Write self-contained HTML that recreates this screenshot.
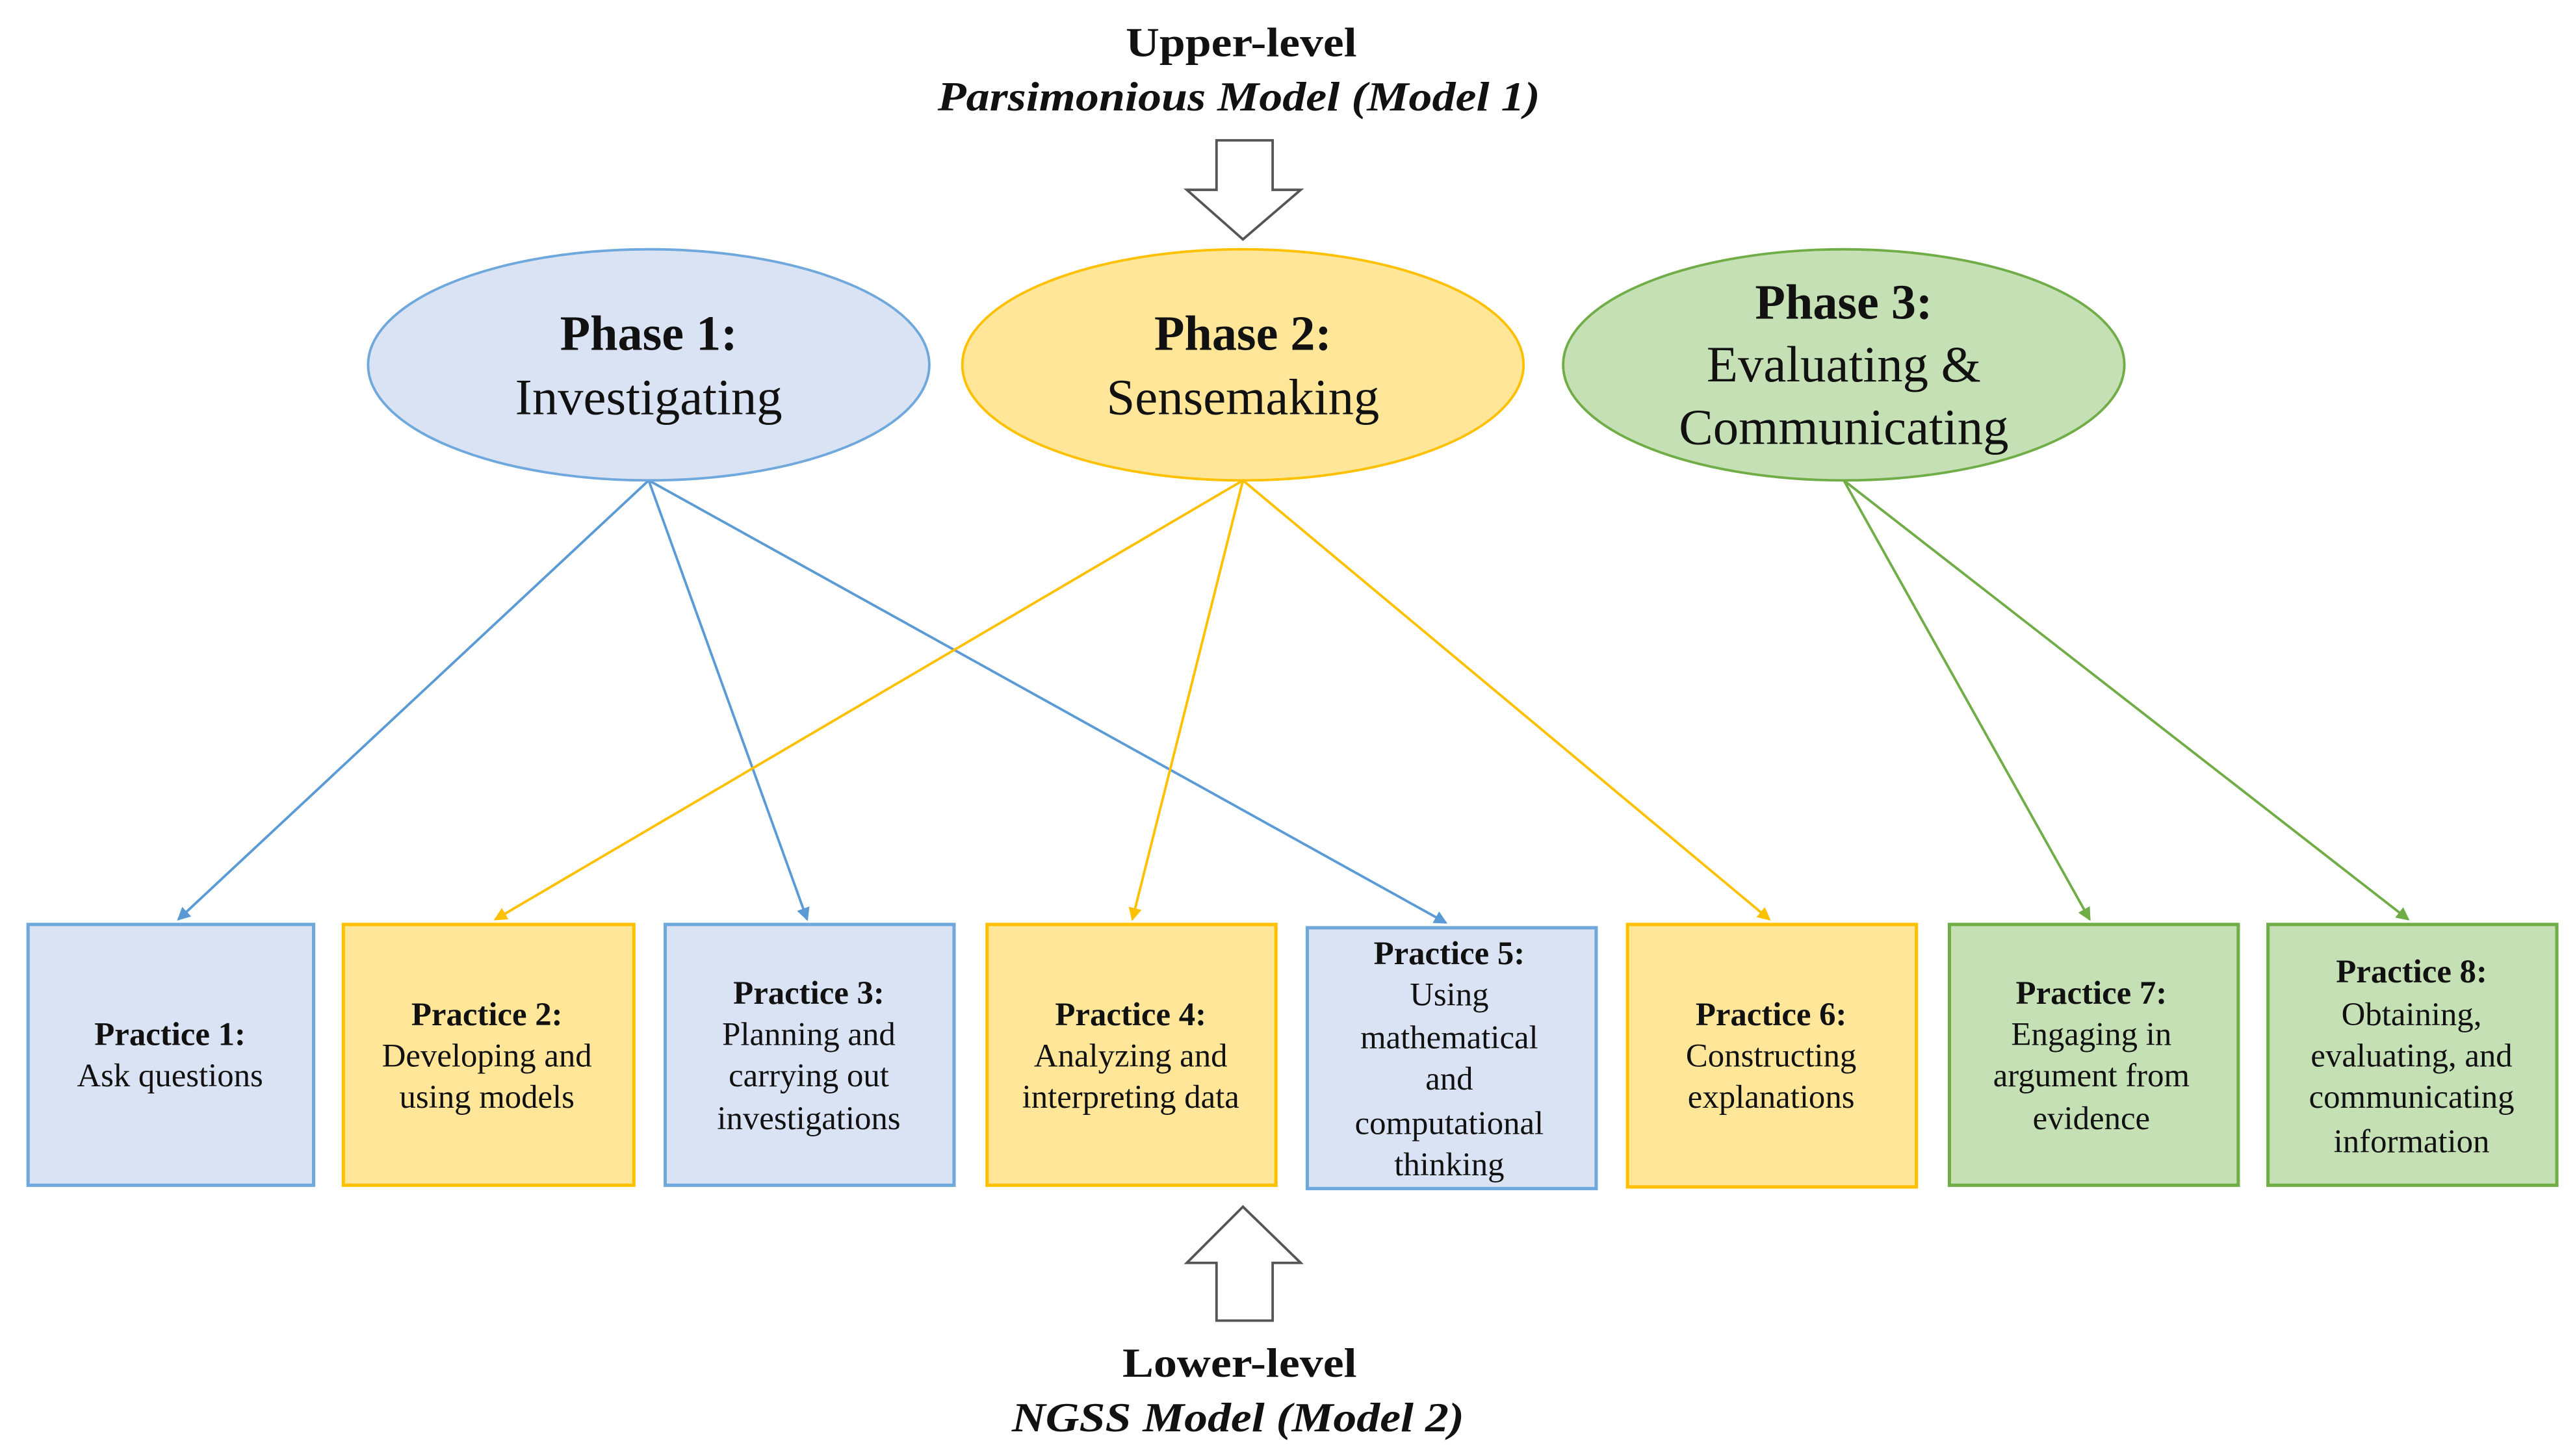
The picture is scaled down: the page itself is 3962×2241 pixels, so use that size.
<!DOCTYPE html>
<html><head><meta charset="utf-8"><style>
html,body{margin:0;padding:0;background:#fff;}
svg{display:block;}
text{font-family:"Liberation Serif",serif;fill:#111;}
.b{font-weight:bold;}
</style></head><body>
<svg width="3962" height="2241" viewBox="0 0 1560 882" preserveAspectRatio="none" xmlns="http://www.w3.org/2000/svg">
<defs>
<marker id="ab" markerWidth="8" markerHeight="8" refX="7" refY="4" orient="auto" markerUnits="userSpaceOnUse"><path d="M0,0 L8,4 L0,8z" fill="#5b9bd5"/></marker>
<marker id="ay" markerWidth="8" markerHeight="8" refX="7" refY="4" orient="auto" markerUnits="userSpaceOnUse"><path d="M0,0 L8,4 L0,8z" fill="#ffc000"/></marker>
<marker id="ag" markerWidth="8" markerHeight="8" refX="7" refY="4" orient="auto" markerUnits="userSpaceOnUse"><path d="M0,0 L8,4 L0,8z" fill="#70ad47"/></marker>
</defs>
<text x="682" y="34" textLength="140" lengthAdjust="spacingAndGlyphs" font-size="25" class="b">Upper-level</text>
<text x="568" y="67" textLength="365" lengthAdjust="spacingAndGlyphs" font-size="25" class="b" font-style="italic">Parsimonious Model (Model 1)</text>
<path d="M737,85 H771 V115 H788 L753,145 L719,115 H737 Z" fill="#fff" stroke="#555" stroke-width="1.5"/>
<path d="M737,800 H771 V765 H788 L753,731 L719,765 H737 Z" fill="#fff" stroke="#555" stroke-width="1.5"/>
<text x="680" y="834" textLength="142" lengthAdjust="spacingAndGlyphs" font-size="25" class="b">Lower-level</text>
<text x="613" y="867" textLength="274" lengthAdjust="spacingAndGlyphs" font-size="25" class="b" font-style="italic">NGSS Model (Model 2)</text>

<g stroke-width="1.5" fill="none">
<line x1="393" y1="291" x2="108" y2="557" stroke="#5b9bd5" marker-end="url(#ab)"/>
<line x1="393" y1="291" x2="489" y2="557" stroke="#5b9bd5" marker-end="url(#ab)"/>
<line x1="393" y1="291" x2="876" y2="559" stroke="#5b9bd5" marker-end="url(#ab)"/>
<line x1="753" y1="291" x2="300" y2="557" stroke="#ffc000" marker-end="url(#ay)"/>
<line x1="753" y1="291" x2="686" y2="557" stroke="#ffc000" marker-end="url(#ay)"/>
<line x1="753" y1="291" x2="1072" y2="557" stroke="#ffc000" marker-end="url(#ay)"/>
<line x1="1117" y1="291" x2="1266" y2="557" stroke="#70ad47" marker-end="url(#ag)"/>
<line x1="1117" y1="291" x2="1459" y2="557" stroke="#70ad47" marker-end="url(#ag)"/>
</g>

<ellipse cx="393" cy="221" rx="170" ry="70" fill="#dae3f3" stroke="#6fa8dc" stroke-width="1.5"/>
<ellipse cx="753" cy="221" rx="170" ry="70" fill="#ffe699" stroke="#ffc000" stroke-width="1.5"/>
<ellipse cx="1117" cy="221" rx="170" ry="70" fill="#c5e0b4" stroke="#70ad47" stroke-width="1.5"/>
<text x="393" y="212" text-anchor="middle" font-size="30" class="b">Phase 1:</text>
<text x="393" y="251" text-anchor="middle" font-size="31">Investigating</text>
<text x="753" y="212" text-anchor="middle" font-size="30" class="b">Phase 2:</text>
<text x="753" y="251" text-anchor="middle" font-size="31">Sensemaking</text>
<text x="1117" y="193" text-anchor="middle" font-size="30" class="b">Phase 3:</text>
<text x="1117" y="231" text-anchor="middle" font-size="31">Evaluating &amp;</text>
<text x="1117" y="269" text-anchor="middle" font-size="31">Communicating</text>

<g stroke-width="2">
<rect x="17" y="560" width="173" height="158" fill="#dae3f3" stroke="#6fa8dc"/>
<rect x="208" y="560" width="176" height="158" fill="#ffe699" stroke="#ffc000"/>
<rect x="403" y="560" width="175" height="158" fill="#dae3f3" stroke="#6fa8dc"/>
<rect x="598" y="560" width="175" height="158" fill="#ffe699" stroke="#ffc000"/>
<rect x="792" y="562" width="175" height="158" fill="#dae3f3" stroke="#6fa8dc"/>
<rect x="986" y="560" width="175" height="159" fill="#ffe699" stroke="#ffc000"/>
<rect x="1181" y="560" width="175" height="158" fill="#c5e0b4" stroke="#70ad47"/>
<rect x="1374" y="560" width="175" height="158" fill="#c5e0b4" stroke="#70ad47"/>
</g>
<g font-size="20" text-anchor="middle">
<text x="103" y="633" class="b">Practice 1:</text>
<text x="103" y="658">Ask questions</text>
<text x="295" y="621" class="b">Practice 2:</text>
<text x="295" y="646">Developing and</text>
<text x="295" y="671">using models</text>
<text x="490" y="608" class="b">Practice 3:</text>
<text x="490" y="633">Planning and</text>
<text x="490" y="658">carrying out</text>
<text x="490" y="684">investigations</text>
<text x="685" y="621" class="b">Practice 4:</text>
<text x="685" y="646">Analyzing and</text>
<text x="685" y="671">interpreting data</text>
<text x="878" y="584" class="b">Practice 5:</text>
<text x="878" y="609">Using</text>
<text x="878" y="635">mathematical</text>
<text x="878" y="660">and</text>
<text x="878" y="687">computational</text>
<text x="878" y="712">thinking</text>
<text x="1073" y="621" class="b">Practice 6:</text>
<text x="1073" y="646">Constructing</text>
<text x="1073" y="671">explanations</text>
<text x="1267" y="608" class="b">Practice 7:</text>
<text x="1267" y="633">Engaging in</text>
<text x="1267" y="658">argument from</text>
<text x="1267" y="684">evidence</text>
<text x="1461" y="595" class="b">Practice 8:</text>
<text x="1461" y="621">Obtaining,</text>
<text x="1461" y="646">evaluating, and</text>
<text x="1461" y="671">communicating</text>
<text x="1461" y="698">information</text>
</g>
</svg>
</body></html>
